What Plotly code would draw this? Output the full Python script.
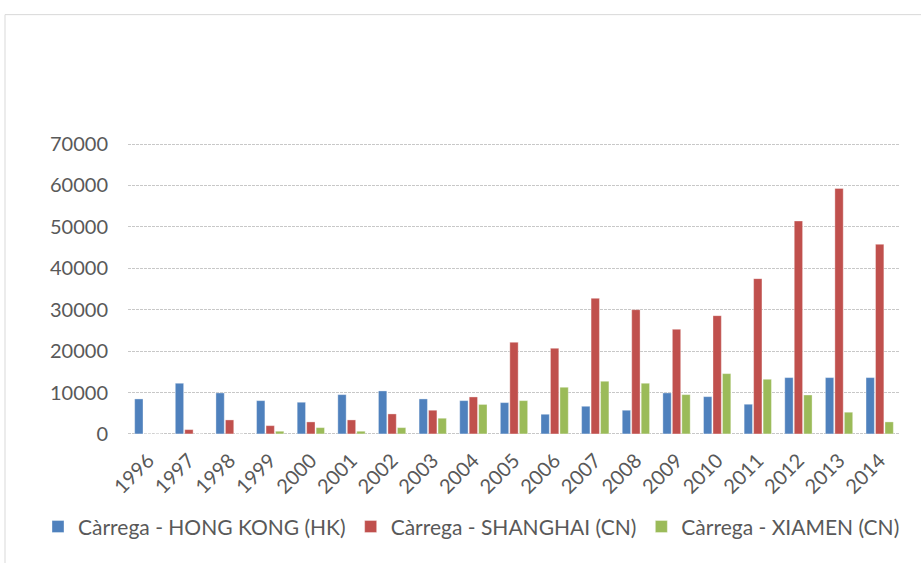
import plotly.graph_objects as go

# Annual cargo throughput by port
years = ["1996", "1997", "1998", "1999", "2000", "2001", "2002", "2003", "2004", "2005",
         "2006", "2007", "2008", "2009", "2010", "2011", "2012", "2013", "2014"]
hong_kong = [8450, 12240, 9900, 8040, 7650, 9490, 10380, 8450, 8040, 7560,
             4750, 6680, 5720, 9900, 9000, 7170, 13600, 13600, 13600]
shanghai = [0, 1040, 3380, 2000, 2900, 3380, 4830, 5720, 8930, 22130,
            20680, 32750, 30000, 25270, 28560, 37500, 51420, 59300, 45800]
xiamen = [0, 0, 0, 650, 1520, 650, 1520, 3790, 7120, 8040,
          11270, 12720, 12240, 9490, 14560, 13200, 9400, 5240, 2900]
series_names = ["Càrrega - HONG KONG (HK)", "Càrrega - SHANGHAI (CN)", "Càrrega - XIAMEN (CN)"]
series_colors = ["#4F81BD", "#C0504D", "#9BBB59"]
y_ticks = [0, 10000, 20000, 30000, 40000, 50000, 60000, 70000]

W, H = 921, 563
L, R, T, B = 128, 21, 144, 129
Y_MAX = 70000
PAD = 500  # range padding so the edge gridlines (0 and 70000) are not clipped
PAD_PX = PAD / Y_MAX * (H - T - B)
MT, MB = T - PAD_PX, B - PAD_PX
PW, PH = W - L - R, H - MT - MB


def px_x(x):
    return (x - L) / PW


def px_y(y):
    return (H - MB - y) / PH


fig = go.Figure()
for name, vals, col in zip(series_names, [hong_kong, shanghai, xiamen], series_colors):
    fig.add_trace(go.Bar(
        x=years, y=vals, name=name,
        marker=dict(color=col, line=dict(color="rgba(255,255,255,0.6)", width=0.6)),
    ))

text_col = "#595959"
fig.update_layout(
    width=W, height=H,
    margin=dict(l=L, r=R, t=MT, b=MB),
    paper_bgcolor="white", plot_bgcolor="white",
    barmode="group", bargap=0.3, bargroupgap=0.12,
    font=dict(family="Lato, 'Open Sans', sans-serif", color=text_col),
    xaxis=dict(
        type="category", tickangle=-45, showgrid=False, showline=False,
        ticks="", tickfont=dict(size=20, color=text_col), ticklabelstandoff=8,
    ),
    yaxis=dict(
        range=[-PAD, Y_MAX + PAD], tickvals=y_ticks, ticktext=[str(v) for v in y_ticks],
        showgrid=True, gridcolor="#C8C8C8", gridwidth=1, griddash="3px,1px",
        zeroline=False, showline=False, ticks="",
        tickfont=dict(size=20, color=text_col), ticklabelstandoff=19,
    ),
    legend=dict(
        orientation="h", x=px_x(38), xanchor="left", y=px_y(527), yanchor="middle",
        font=dict(size=21, color=text_col), bgcolor="rgba(0,0,0,0)",
        traceorder="normal",
    ),
    showlegend=True,
    shapes=[dict(
        type="rect", xref="paper", yref="paper",
        x0=px_x(5), x1=px_x(940), y0=px_y(590), y1=px_y(14.5),
        line=dict(color="#D9D9D9", width=1), fillcolor="rgba(0,0,0,0)", layer="below",
    )],
)

fig.write_html("out.html")
